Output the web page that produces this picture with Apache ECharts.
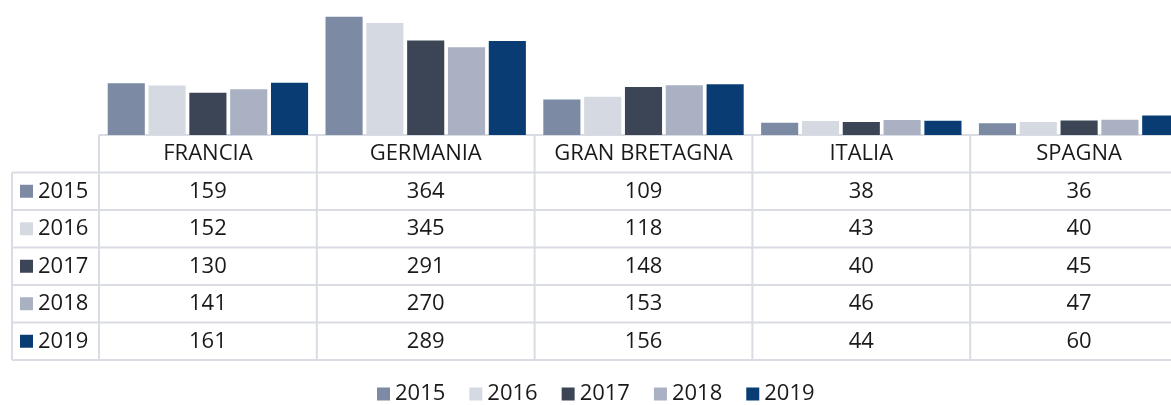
<!DOCTYPE html>
<html><head><meta charset="utf-8">
<script src="https://cdn.jsdelivr.net/npm/echarts@6/dist/echarts.min.js"></script>
<style>html,body{margin:0;padding:0;overflow:hidden;background:#fff}#c{width:1190px;height:405px}</style>
</head><body><div id="c"></div>
<script>
const categories = ['FRANCIA', 'GERMANIA', 'GRAN BRETAGNA', 'ITALIA', 'SPAGNA'];
const years = ['2015', '2016', '2017', '2018', '2019'];
const v2015 = [159, 364, 109, 38, 36];
const v2016 = [152, 345, 118, 43, 40];
const v2017 = [130, 291, 148, 40, 45];
const v2018 = [141, 270, 153, 46, 47];
const v2019 = [161, 289, 156, 44, 60];
const seriesValues = [v2015, v2016, v2017, v2018, v2019];
const colors = ['#7d8aa3', '#d5d9e1', '#3c4556', '#a9b1c2', '#083c72'];

const FONT = '"Open Sans", sans-serif';
const chart = echarts.init(document.getElementById('c'), null, {renderer: 'canvas'});
chart.setOption({
  animation: false,
  color: colors,
  grid: {left: 99, right: 2, top: 5, bottom: 270},
  xAxis: {type: 'category', data: categories, axisLine: {show: false}, axisTick: {show: false}, axisLabel: {show: false}},
  yAxis: {type: 'value', min: 0, max: 400, show: false, splitLine: {show: false}},
  legend: {
    data: years, top: 383, left: 377, padding: 0, icon: 'rect', itemWidth: 13, itemHeight: 13, itemGap: 24,
    textStyle: {fontFamily: FONT, fontSize: 22, color: '#1a1a1a'}
  },
  series: years.map((y, i) => ({
    name: y, type: 'bar', data: seriesValues[i], barGap: '10%', barCategoryGap: '8%',
    itemStyle: {color: colors[i]}
  }))
});

// Data table built from the axis scale
const baseY = chart.convertToPixel({yAxisIndex: 0}, 0);
const c0 = chart.convertToPixel({xAxisIndex: 0}, categories[0]);
const c1 = chart.convertToPixel({xAxisIndex: 0}, categories[1]);
const band = c1 - c0;
const left0 = c0 - band / 2;
const rightEnd = left0 + band * categories.length;
const rowH = 37.5;
const tableLeft = 12;
const lineStyle = {stroke: '#d9dce3', lineWidth: 2};
const g = [];
function line(x1, y1, x2, y2) { g.push({type: 'line', shape: {x1, y1, x2, y2}, style: lineStyle, silent: true}); }
function text(t, x, y, align) {
  g.push({type: 'text', x, y, style: {text: t, fill: '#1a1a1a', font: '22px ' + FONT, textAlign: align || 'center', textVerticalAlign: 'middle'}, silent: true});
}
// horizontal lines
line(left0, baseY, rightEnd, baseY);
for (let r = 1; r <= years.length + 1; r++) line(tableLeft, baseY + rowH * r, rightEnd, baseY + rowH * r);
// vertical lines
line(tableLeft, baseY + rowH, tableLeft, baseY + rowH * (years.length + 1));
for (let k = 0; k <= categories.length; k++) line(left0 + band * k, baseY, left0 + band * k, baseY + rowH * (years.length + 1));
// header
categories.forEach((c, k) => text(c, left0 + band * (k + 0.5), baseY + rowH / 2));
// rows
years.forEach((y, r) => {
  const cy = baseY + rowH * (r + 1.5);
  g.push({type: 'rect', shape: {x: 20, y: cy - 6.5, width: 13, height: 13}, style: {fill: colors[r]}, silent: true});
  text(y, 38, cy, 'left');
  seriesValues[r].forEach((v, k) => text(String(v), left0 + band * (k + 0.5), cy));
});
chart.setOption({graphic: g});
</script></body></html>
